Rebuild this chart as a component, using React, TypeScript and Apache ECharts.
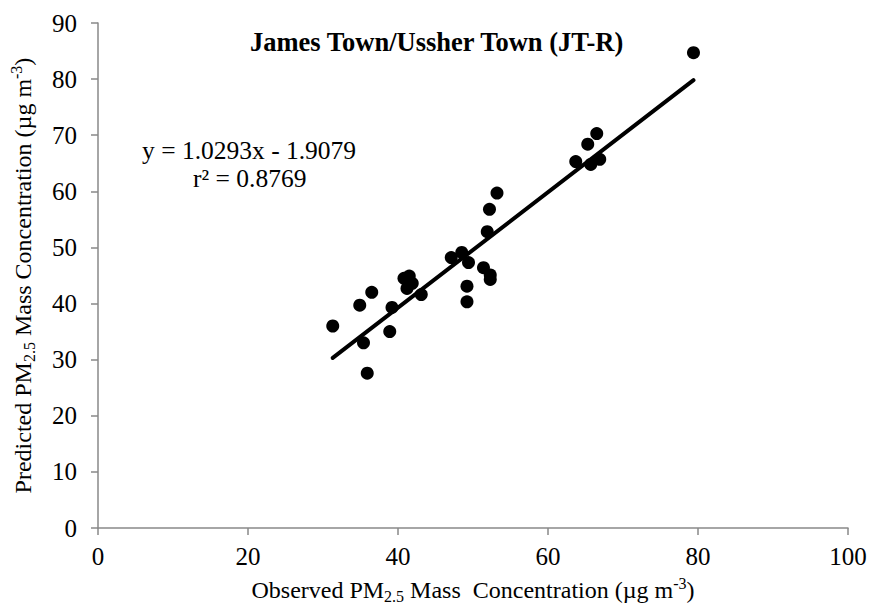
import React, { useEffect, useRef } from "react";
import * as echarts from "echarts";

const observed = [31.3, 34.9, 36.5, 39.2, 38.9, 35.4, 35.9, 40.8, 41.5, 41.9, 41.2, 43.1, 47.1, 48.5, 49.4, 49.2, 49.2, 51.4, 52.3, 52.3, 51.9, 52.2, 53.2, 63.7, 65.3, 66.5, 65.7, 66.9, 79.4];
const predicted = [36.0, 39.7, 42.0, 39.3, 35.0, 33.0, 27.6, 44.5, 44.9, 43.6, 42.7, 41.6, 48.2, 49.1, 47.3, 43.1, 40.3, 46.4, 45.1, 44.3, 52.8, 56.8, 59.7, 65.3, 68.4, 70.3, 64.8, 65.7, 84.7];
const slope = 1.0293;
const intercept = -1.9079;
const xTicks = { min: 0, max: 100, interval: 20 };
const yTicks = { min: 0, max: 90, interval: 10 };
const titleText = "James Town/Ussher Town (JT-R)";
const eqText = "y = 1.0293x - 1.9079";
const r2Text = "r² = 0.8769";

const FONT = '"Liberation Serif", "Times New Roman", serif';

export default function App() {
  const ref = useRef<HTMLDivElement>(null);
  useEffect(() => {
    if (!ref.current) return;
    const chart = echarts.init(ref.current, undefined, { renderer: "svg" });
    const pts = observed.map((x, i) => [x, predicted[i]]);
    const xMin = Math.min(...observed);
    const xMax = Math.max(...observed);
    const trend = [
      [xMin, slope * xMin + intercept],
      [xMax, slope * xMax + intercept],
    ];
    const richName = {
      n: { fontFamily: FONT, fontSize: 24, color: "#000", lineHeight: 29 },
      sub: { fontFamily: FONT, fontSize: 16, color: "#000", verticalAlign: "bottom" },
      sup: { fontFamily: FONT, fontSize: 16, color: "#000", verticalAlign: "top" },
    };
    const axisLine = { show: true, lineStyle: { color: "#898989", width: 1.5 } };
    const axisTick = { show: true, inside: false, length: 7, lineStyle: { color: "#898989", width: 1.5 } };
    chart.setOption({
      animation: false,
      backgroundColor: "#fff",
      title: {
        text: titleText,
        left: 250,
        top: 28,
        padding: 0,
        textStyle: { fontFamily: FONT, fontSize: 26.5, fontWeight: "bold", color: "#000" },
      },
      grid: { left: 97, right: 22, top: 23, bottom: 86, containLabel: false },
      xAxis: {
        type: "value",
        min: xTicks.min,
        max: xTicks.max,
        interval: xTicks.interval,
        splitLine: { show: false },
        axisLine,
        axisTick,
        axisLabel: { fontFamily: FONT, fontSize: 25, color: "#000", margin: 16 },
        name: "{n|Observed PM}{sub|2.5}{n| Mass  Concentration (µg m}{sup|-3}{n|)}",
        nameLocation: "middle",
        nameGap: 47,
        nameTextStyle: { fontFamily: FONT, fontSize: 24, color: "#000", rich: richName },
      },
      yAxis: {
        type: "value",
        min: yTicks.min,
        max: yTicks.max,
        interval: yTicks.interval,
        splitLine: { show: false },
        axisLine,
        axisTick,
        axisLabel: { fontFamily: FONT, fontSize: 25, color: "#000", margin: 21 },
        name: "{n|Predicted PM}{sub|2.5}{n| Mass Concentration (µg m}{sup|-3}{n|)}",
        nameLocation: "middle",
        nameGap: 61,
        nameRotate: 90,
        nameTextStyle: { fontFamily: FONT, fontSize: 24, color: "#000", rich: richName },
      },
      graphic: [
        {
          type: "text",
          x: 142,
          y: 150,
          style: { text: eqText, fill: "#000", fontFamily: FONT, fontSize: 25.5, align: "left", verticalAlign: "middle" },
        },
        {
          type: "text",
          x: 193,
          y: 178,
          style: { text: r2Text, fill: "#000", fontFamily: FONT, fontSize: 25.5, align: "left", verticalAlign: "middle" },
        },
      ],
      series: [
        {
          type: "scatter",
          data: pts,
          symbol: "circle",
          symbolSize: 13,
          itemStyle: { color: "#000", opacity: 1 },
          z: 3,
        },
        {
          type: "line",
          data: trend,
          symbol: "none",
          lineStyle: { color: "#000", width: 4, cap: "round" },
          z: 2,
        },
      ],
    });
    return () => chart.dispose();
  }, []);
  return <div ref={ref} style={{ position: "fixed", left: 0, top: 0, width: 870, height: 614 }} />;
}
